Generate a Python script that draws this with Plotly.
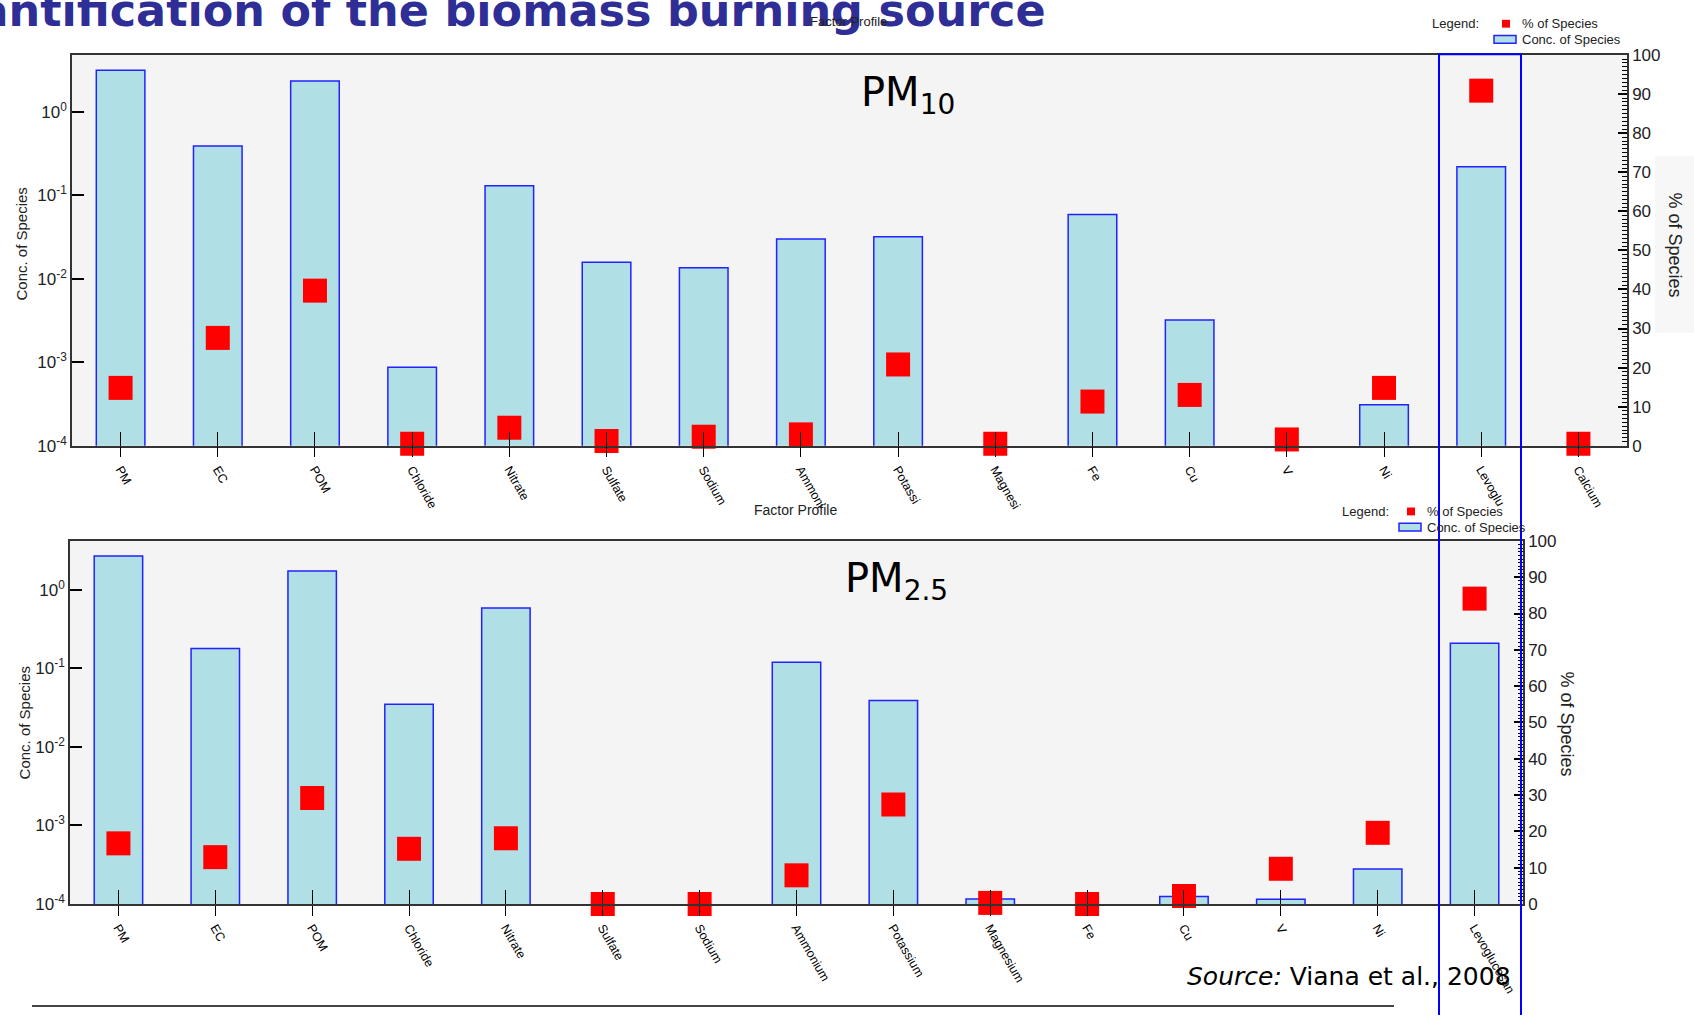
import plotly.graph_objects as go

# ---------------- data ----------------
cats_pm10 = ["PM", "EC", "POM", "Chloride", "Nitrate", "Sulfate", "Sodium", "Ammonium",
             "Potassium", "Magnesium", "Fe", "Cu", "V", "Ni", "Levoglucosan", "Calcium"]
ticks_pm10 = ["PM", "EC", "POM", "Chloride", "Nitrate", "Sulfate", "Sodium", "Ammoni",
              "Potassi", "Magnesi", "Fe", "Cu", "V", "Ni", "Levoglu", "Calcium"]
conc_pm10 = [3.15, 0.39, 2.35, 8.7e-4, 0.13, 0.0158, 0.0136, 0.030,
             0.032, None, 0.059, 3.2e-3, None, 3.1e-4, 0.22, None]
pct_pm10 = [14.8, 27.6, 39.7, 0.5, 4.6, 1.2, 2.3, 2.9,
            20.8, 0.5, 11.3, 13.0, 1.6, 14.8, 90.9, 0.5]

cats_pm25 = ["PM", "EC", "POM", "Chloride", "Nitrate", "Sulfate", "Sodium", "Ammonium",
             "Potassium", "Magnesium", "Fe", "Cu", "V", "Ni", "Levoglucosan"]
ticks_pm25 = cats_pm25
conc_pm25 = [2.7, 0.18, 1.75, 0.035, 0.59, None, None, 0.12,
             0.039, 1.16e-4, None, 1.25e-4, 1.15e-4, 2.8e-4, 0.21]
pct_pm25 = [16.7, 12.9, 29.2, 15.2, 18.1, 0.0, 0.0, 7.9,
            27.4, 0.3, 0.0, 2.2, 9.7, 19.6, 84.1]

log_tickvals = [1e-4, 1e-3, 1e-2, 1e-1, 1e0]
log_ticktext = ["10<sup>-4</sup>", "10<sup>-3</sup>", "10<sup>-2</sup>", "10<sup>-1</sup>", "10<sup>0</sup>"]
pct_tickvals = [0, 10, 20, 30, 40, 50, 60, 70, 80, 90, 100]

# ---------------- style ----------------
W, H = 1694, 1019
BAR_FILL = "#b0dfe5"
BAR_LINE = "#2222ff"
RED = "#ff0000"
AX = "#333333"
FONT = "Liberation Sans, Arial, sans-serif"
COMIC = "DejaVu Sans, sans-serif"
TITLE_BLUE = "#2e2e96"


def px(x):
    return x / W


def py(y):
    return 1 - y / H


fig = go.Figure()

n10 = len(cats_pm10)
n25 = len(cats_pm25)

# top panel (PM10)
fig.add_trace(go.Bar(x=cats_pm10, y=conc_pm10, xaxis="x", yaxis="y",
                     width=0.5, marker=dict(color=BAR_FILL, line=dict(color=BAR_LINE, width=1.5)),
                     name="Conc. of Species", showlegend=False, hoverinfo="x+y"))
fig.add_trace(go.Scatter(x=cats_pm10, y=pct_pm10, xaxis="x", yaxis="y2", mode="markers",
                         marker=dict(symbol="square", size=24, color=RED, line=dict(width=0)),
                         cliponaxis=False, name="% of Species", showlegend=False))
fig.add_trace(go.Scatter(x=list(range(n10)), y=[1] * n10, xaxis="x3", yaxis="y",
                         mode="markers", marker=dict(opacity=0), showlegend=False, hoverinfo="skip"))

# bottom panel (PM2.5)
fig.add_trace(go.Bar(x=cats_pm25, y=conc_pm25, xaxis="x2", yaxis="y3",
                     width=0.5, marker=dict(color=BAR_FILL, line=dict(color=BAR_LINE, width=1.5)),
                     name="Conc. of Species", showlegend=False, hoverinfo="x+y"))
fig.add_trace(go.Scatter(x=cats_pm25, y=pct_pm25, xaxis="x2", yaxis="y4", mode="markers",
                         marker=dict(symbol="square", size=24, color=RED, line=dict(width=0)),
                         cliponaxis=False, name="% of Species", showlegend=False))
fig.add_trace(go.Scatter(x=list(range(n25)), y=[1] * n25, xaxis="x4", yaxis="y3",
                         mode="markers", marker=dict(opacity=0), showlegend=False, hoverinfo="skip"))

top_x = [px(72), px(1627)]
top_y = [py(445), py(47)]
bot_x = [px(70), px(1523)]
bot_y = [py(912), py(542)]

xcommon = dict(type="category", showline=True, linecolor=AX, linewidth=1.5, mirror=True,
               ticks="outside", ticklen=10, tickcolor="black", tickwidth=1,
               tickangle=60, tickfont=dict(family=FONT, size=12.5, color="black"),
               showgrid=False, zeroline=False, fixedrange=True)
inner_common = dict(type="linear", ticks="inside", ticklen=14, tickcolor="black", tickwidth=1,
                    showticklabels=False, showgrid=False, zeroline=False, showline=False)
ylog_common = dict(type="log", tickvals=log_tickvals, ticktext=log_ticktext,
                   ticks="inside", ticklen=12, tickcolor="black", tickwidth=1.5,
                   tickfont=dict(family=FONT, size=17, color="#222"),
                   showline=True, linecolor=AX, linewidth=1.5, mirror=True,
                   showgrid=False, zeroline=False)
ypct_common = dict(range=[0, 100], tickvals=pct_tickvals, side="right",
                   ticks="inside", ticklen=9, tickcolor="black", tickwidth=1.5,
                   minor=dict(dtick=1, ticks="inside", ticklen=5, tickcolor="black", tickwidth=1),
                   tickfont=dict(family=FONT, size=17, color="#222"),
                   showline=True, linecolor=AX, linewidth=1.5,
                   showgrid=False, zeroline=False)

fig.update_layout(
    width=W, height=H, autosize=False,
    margin=dict(l=0, r=0, t=0, b=0),
    paper_bgcolor="white", plot_bgcolor="#f4f4f4",
    showlegend=False,
    xaxis=dict(xcommon, domain=top_x, anchor="y", tickvals=cats_pm10, ticktext=ticks_pm10,
               categoryorder="array", categoryarray=cats_pm10, range=[-0.5, n10 - 0.5]),
    xaxis3=dict(inner_common, overlaying="x", anchor="y", range=[-0.5, n10 - 0.5],
                tickvals=list(range(n10))),
    yaxis=dict(ylog_common, domain=top_y, anchor="x", range=[-4, 0.68]),
    yaxis2=dict(ypct_common, overlaying="y", anchor="x"),
    xaxis2=dict(xcommon, domain=bot_x, anchor="y3", tickvals=cats_pm25, ticktext=ticks_pm25,
                categoryorder="array", categoryarray=cats_pm25, range=[-0.5, n25 - 0.5]),
    xaxis4=dict(inner_common, overlaying="x2", anchor="y3", range=[-0.5, n25 - 0.5],
                tickvals=list(range(n25))),
    yaxis3=dict(ylog_common, domain=bot_y, anchor="x2", range=[-4, 0.625]),
    yaxis4=dict(ypct_common, overlaying="y3", anchor="x2"),
)

ann = []
shapes = []

# light panel behind the right axis title of the top chart
shapes.append(dict(type="rect", xref="paper", yref="paper", layer="below",
                   x0=px(1655), x1=px(1694), y0=py(330), y1=py(150),
                   fillcolor="#f7f7f7", line=dict(width=0)))

# page title (cut off at the top-left, as in the slide)
ann.append(dict(text="Quantification of the biomass burning source", x=px(1048), y=py(30),
                xref="paper", yref="paper", xanchor="right", yanchor="bottom", showarrow=False,
                font=dict(family=COMIC, size=44.5, color=TITLE_BLUE, weight="bold")))
ann.append(dict(text="Factor Profile", x=px(848), y=py(13), xref="paper", yref="paper",
                xanchor="center", yanchor="middle", showarrow=False,
                font=dict(family=FONT, size=13, color="#222")))
ann.append(dict(text="Factor Profile", x=px(795), y=py(511), xref="paper", yref="paper",
                xanchor="center", yanchor="middle", showarrow=False,
                font=dict(family=FONT, size=14, color="#222")))

# panel labels
ann.append(dict(text="PM<sub>10</sub>", x=px(908), y=py(88), xref="paper", yref="paper",
                xanchor="center", yanchor="middle", showarrow=False,
                font=dict(family=COMIC, size=40, color="black")))
ann.append(dict(text="PM<sub>2.5</sub>", x=px(897), y=py(583), xref="paper", yref="paper",
                xanchor="center", yanchor="middle", showarrow=False,
                font=dict(family=COMIC, size=40, color="black")))

# axis titles
for (x, y, ang, txt, sz) in [(22, 240, -90, "Conc. of Species", 15),
                             (24, 728, -90, "Conc. of Species", 15),
                             (1675, 240, 90, "% of Species", 18),
                             (1567, 728, 90, "% of Species", 18)]:
    ann.append(dict(text=txt, x=px(x), y=py(y), xref="paper", yref="paper", textangle=ang,
                    xanchor="center", yanchor="middle", showarrow=False,
                    font=dict(family=FONT, size=sz, color="#222")))

# legends
for (lx, ly, rx) in [(1430, 15, 1506), (1340, 512, 1411)]:
    ann.append(dict(text="Legend:", x=px(lx), y=py(ly), xref="paper", yref="paper",
                    xanchor="left", yanchor="middle", showarrow=False,
                    font=dict(family=FONT, size=13, color="#222")))
    ann.append(dict(text="% of Species", x=px(rx + 14), y=py(ly), xref="paper", yref="paper",
                    xanchor="left", yanchor="middle", showarrow=False,
                    font=dict(family=FONT, size=13, color="#222")))
    ann.append(dict(text="Conc. of Species", x=px(rx + 14), y=py(ly + 16), xref="paper", yref="paper",
                    xanchor="left", yanchor="middle", showarrow=False,
                    font=dict(family=FONT, size=13, color="#222")))
    shapes.append(dict(type="rect", xref="paper", yref="paper",
                       x0=px(rx - 4), x1=px(rx + 4), y0=py(ly + 4), y1=py(ly - 4),
                       fillcolor=RED, line=dict(width=0)))
    shapes.append(dict(type="rect", xref="paper", yref="paper",
                       x0=px(rx - 12), x1=px(rx + 10), y0=py(ly + 20), y1=py(ly + 12),
                       fillcolor=BAR_FILL, line=dict(color=BAR_LINE, width=1.5)))

# source
ann.append(dict(text="<i>Source:</i> Viana et al., 2008", x=px(1513), y=py(986), xref="paper", yref="paper",
                xanchor="right", yanchor="middle", showarrow=False,
                font=dict(family=COMIC, size=25, color="black")))

# highlight of levoglucosan column
shapes.append(dict(type="line", xref="paper", yref="paper", x0=px(1439), x1=px(1439), y0=py(46), y1=py(1025),
                   line=dict(color="#0000ff", width=2)))
shapes.append(dict(type="line", xref="paper", yref="paper", x0=px(1521), x1=px(1521), y0=py(46), y1=py(1025),
                   line=dict(color="#0000ff", width=2)))
shapes.append(dict(type="line", xref="paper", yref="paper", x0=px(1439), x1=px(1521), y0=py(46), y1=py(46),
                   line=dict(color="#0000ff", width=2)))
# bottom rule
shapes.append(dict(type="line", xref="paper", yref="paper", x0=px(32), x1=px(1394), y0=py(1016), y1=py(1016),
                   line=dict(color="#444", width=2)))

fig.update_layout(annotations=ann, shapes=shapes)
fig.write_html("out.html")
